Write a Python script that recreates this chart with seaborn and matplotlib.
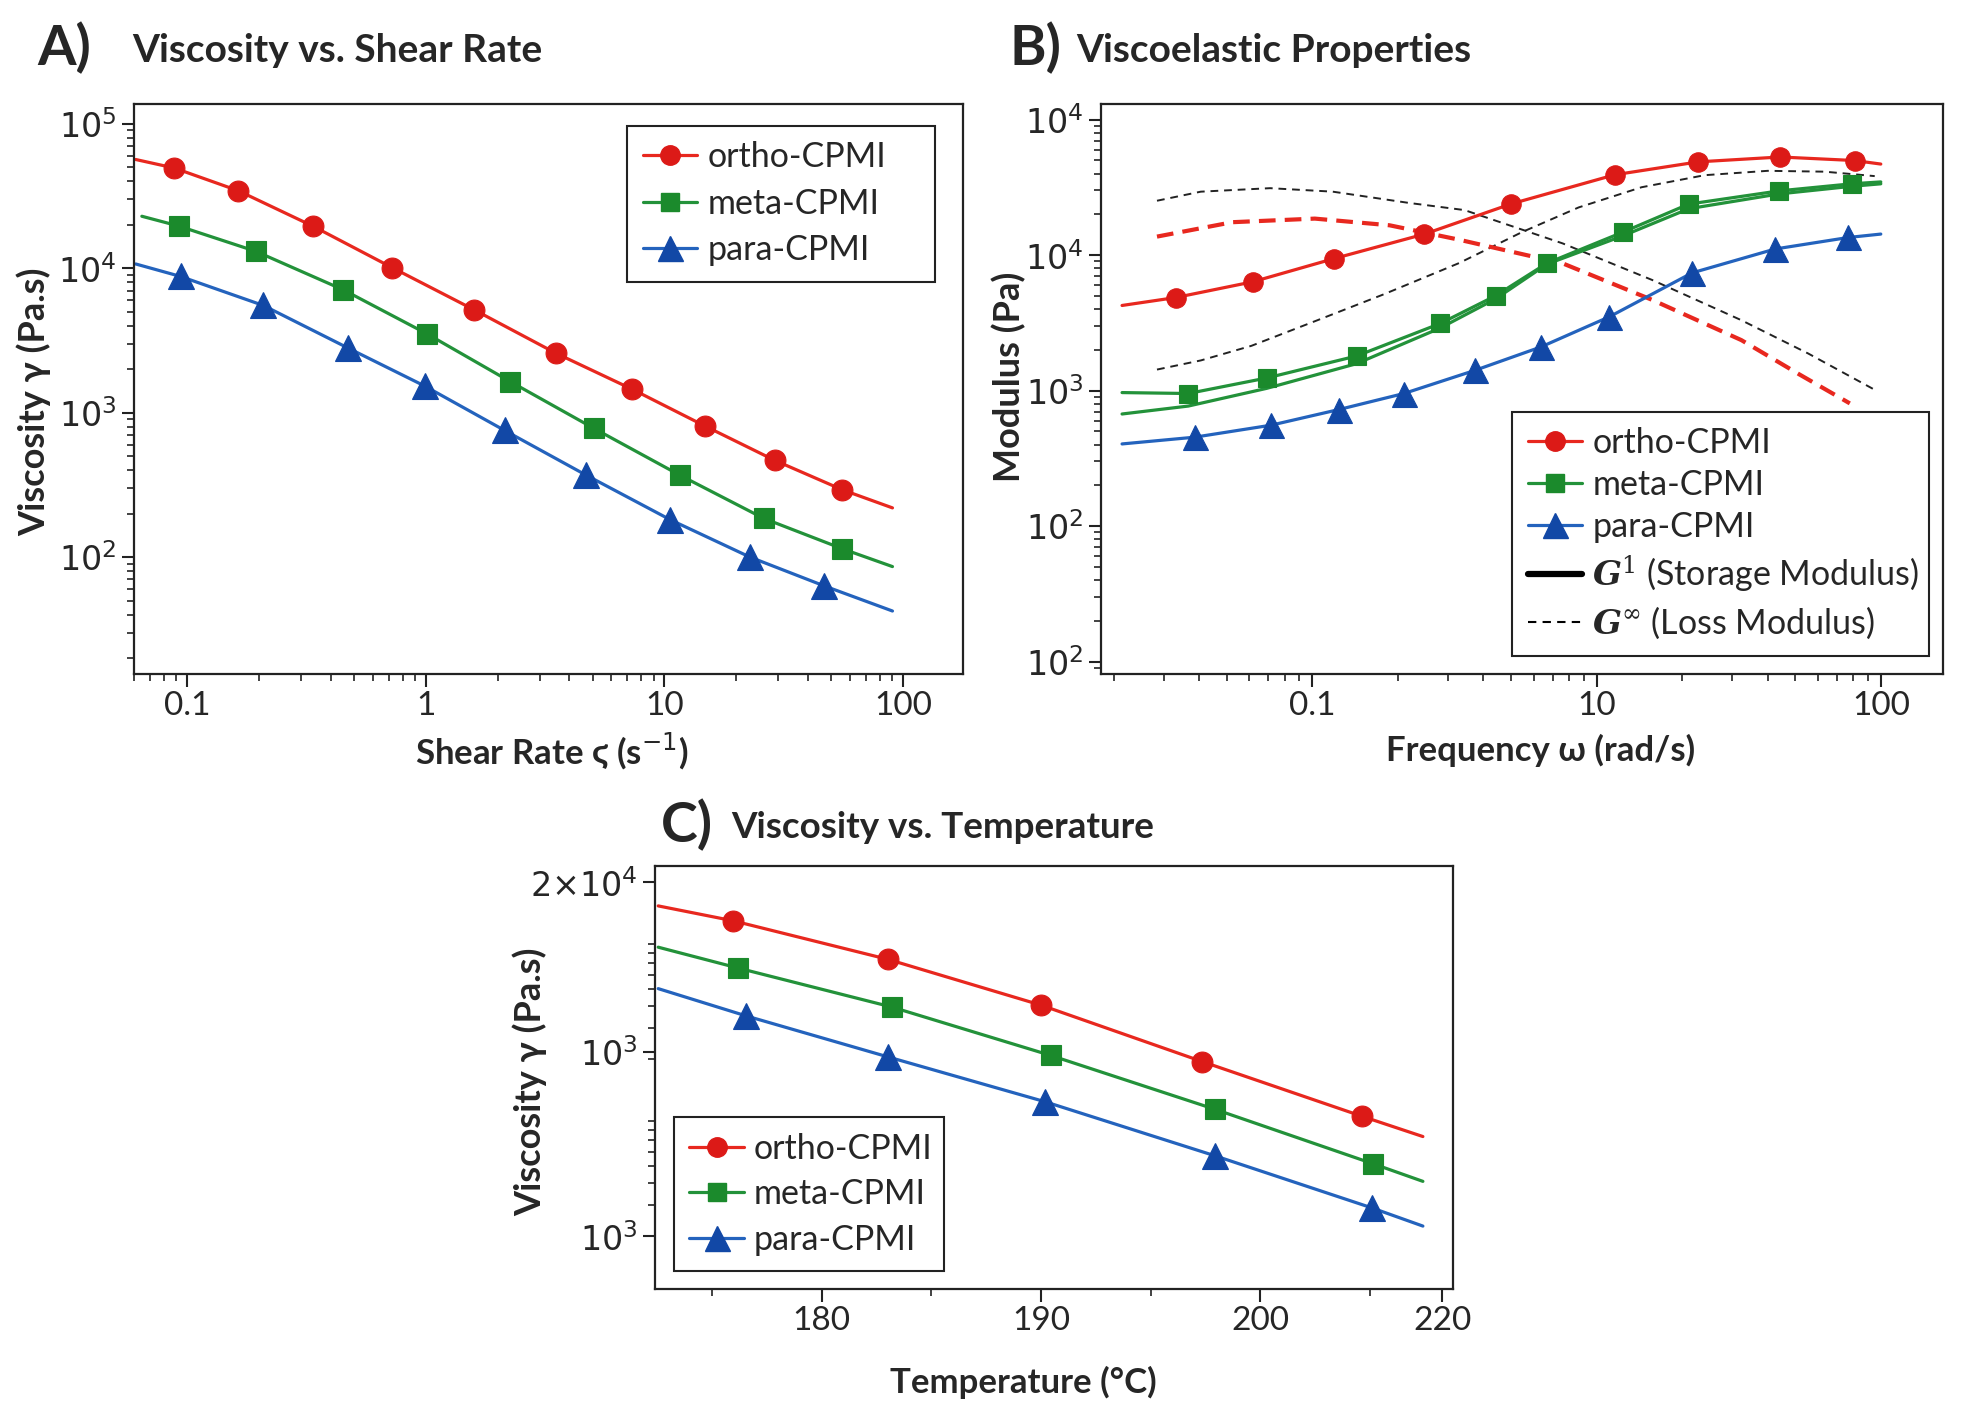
import matplotlib
matplotlib.use("Agg")
import matplotlib.pyplot as plt
from matplotlib.lines import Line2D
from matplotlib.ticker import FixedLocator, FixedFormatter, NullFormatter
import seaborn as sns

# ---- A) viscosity vs shear rate (first and last point = ends of the fitted curve) ----
a_ortho_rate = [0.061, 0.0885, 0.164, 0.338, 0.723, 1.60, 3.51, 7.34, 14.8, 29.0, 55.7, 90.2]
a_ortho_visc = [5.66e4, 4.94e4, 3.44e4, 1.95e4, 1.01e4, 5.14e3, 2.58e3, 1.45e3, 807, 467, 292, 219]
a_meta_rate = [0.0647, 0.0923, 0.194, 0.452, 1.01, 2.26, 5.05, 11.6, 26.1, 55.7, 90.2]
a_meta_visc = [2.29e4, 1.96e4, 1.31e4, 7.08e3, 3.52e3, 1.64e3, 780, 369, 185, 114, 85.9]
a_para_rate = [0.061, 0.094, 0.209, 0.471, 0.989, 2.14, 4.70, 10.6, 22.8, 46.5, 90.2]
a_para_visc = [1.07e4, 8.77e3, 5.52e3, 2.81e3, 1.53e3, 753, 369, 181, 100, 63.3, 42.3]

# ---- B) viscoelastic properties ----
b_ortho_freq = [0.214, 0.330, 0.616, 1.19, 2.48, 5.01, 11.6, 22.8, 44.3, 80.9, 100]
b_ortho_g1 = [4.25e3, 4.86e3, 6.35e3, 9.42e3, 1.43e4, 2.39e4, 3.92e4, 4.88e4, 5.30e4, 4.99e4, 4.70e4]
b_ortho_loss_freq = [0.284, 0.523, 1.02, 1.87, 3.28, 7.60, 15.7, 32.3, 51.6, 77.8]
b_ortho_g2 = [1.37e4, 1.75e4, 1.86e4, 1.66e4, 1.30e4, 8.69e3, 4.67e3, 2.36e3, 1.32e3, 805]
b_meta_freq = [0.214, 0.366, 0.692, 1.43, 2.82, 4.41, 6.70, 12.4, 21.1, 43.9, 78.9, 100]
b_meta_g1 = [967, 952, 1.24e3, 1.80e3, 3.13e3, 5.01e3, 8.73e3, 1.48e4, 2.38e4, 2.98e4, 3.36e4, 3.47e4]
b_meta_g1_b = [672, 769, 1.04e3, 1.58e3, 2.90e3, 4.75e3, 8.59e3, 1.39e4, 2.20e4, 2.83e4, 3.22e4, 3.36e4]
b_para_freq = [0.214, 0.385, 0.717, 1.24, 2.10, 3.73, 6.37, 11.1, 21.7, 42.5, 76.9, 100]
b_para_g1 = [404, 453, 556, 725, 952, 1.41e3, 2.10e3, 3.51e3, 7.40e3, 1.11e4, 1.35e4, 1.43e4]
b_loss_up_freq = [0.284, 0.405, 0.710, 1.18, 2.18, 3.43, 7.60, 15.7, 32.3, 55.5, 95.5]
b_loss_up = [2.52e4, 2.94e4, 3.12e4, 2.94e4, 2.43e4, 2.15e4, 1.22e4, 6.55e3, 3.31e3, 1.88e3, 1.01e3]
b_loss_low_freq = [0.284, 0.405, 0.610, 1.02, 1.78, 3.28, 5.47, 8.65, 14.4, 24.0, 40.0, 63.4, 95.2]
b_loss_low = [1.43e3, 1.67e3, 2.14e3, 3.25e3, 5.13e3, 8.73e3, 1.48e4, 2.25e4, 3.17e4, 3.89e4, 4.19e4, 4.13e4, 3.83e4]

# ---- C) viscosity vs temperature ----
c_ortho_temp = [172.54, 175.97, 183.02, 190.0, 197.34, 204.64, 207.41]
c_ortho_visc = [1.47e4, 1.21e4, 7.33e3, 4.04e3, 1.94e3, 951, 731]
c_meta_temp = [172.54, 176.18, 183.2, 190.44, 197.95, 205.14, 207.41]
c_meta_visc = [8.59e3, 6.55e3, 3.94e3, 2.10e3, 1.04e3, 513, 408]
c_para_temp = [172.54, 176.56, 183.02, 190.18, 197.95, 205.08, 207.41]
c_para_visc = [5.01e3, 3.51e3, 2.06e3, 1.15e3, 568, 289, 228]

# tick labels as printed on the original figure
a_xticks = [0.1, 1, 10, 100]
a_xlabels = ["0.1", "1", "10", "100"]
a_yticks = [1e2, 1e3, 1e4, 1e5]
a_ylabels = [r"$10^{2}$", r"$10^{3}$", r"$10^{4}$", r"$10^{5}$"]
b_xticks = [1, 10, 100]
b_xlabels = ["0.1", "10", "100"]
b_yticks = [1e1, 1e2, 1e3, 1e4, 1e5]
b_ylabels = [r"$10^{2}$", r"$10^{2}$", r"$10^{3}$", r"$10^{4}$", r"$10^{4}$"]
c_xticks = [180, 190, 200, 208.3]
c_xlabels = ["180", "190", "200", "220"]
c_xminor = [175, 185, 195, 205]
c_yticks = [2e2, 2.2e3, 2e4]
c_ylabels = [r"$10^{3}$", r"$10^{3}$", r"$2{\times}10^{4}$"]

names = ["ortho-CPMI", "meta-CPMI", "para-CPMI"]
line_col = ["#e8281f", "#23923a", "#2463bd"]
mark_col = ["#dc1a17", "#1b8a2c", "#1248a6"]
marks = ["o", "s", "^"]
msize = [15, 14, 19]

sns.set_style("ticks")
plt.rcParams["font.family"] = ["Lato", "DejaVu Sans"]
plt.rcParams["axes.edgecolor"] = "#222222"
plt.rcParams["axes.linewidth"] = 1.6
head_font = ["Lato", "DejaVu Sans"]


def curve(ax, x, y, i, ms=None, marked=True, lw=2.3):
    kw = {}
    if marked:
        kw = dict(marker=marks[i], markersize=ms or msize[i], markevery=list(range(1, len(x) - 1)),
                  markerfacecolor=mark_col[i], markeredgecolor=mark_col[i], markeredgewidth=0.8)
    sns.lineplot(x=x, y=y, ax=ax, color=line_col[i], lw=lw, sort=False, estimator=None, **kw)


def style_log(ax, xt, xl, yt, yl, xlim, ylim, xlog=True):
    if xlog:
        ax.set_xscale("log")
    ax.set_yscale("log")
    ax.set_xlim(*xlim)
    ax.set_ylim(*ylim)
    ax.xaxis.set_major_locator(FixedLocator(xt))
    ax.xaxis.set_major_formatter(FixedFormatter(xl))
    ax.yaxis.set_major_locator(FixedLocator(yt))
    ax.yaxis.set_major_formatter(FixedFormatter(yl))
    ax.xaxis.set_minor_formatter(NullFormatter())
    ax.yaxis.set_minor_formatter(NullFormatter())
    ax.tick_params(which="major", length=9, width=1.5, labelsize=24, color="#222222")
    ax.tick_params(which="minor", length=5, width=1.2, color="#222222")
    for s in ax.spines.values():
        s.set_visible(True)


def legend_handles(n=3):
    return [Line2D([], [], color=line_col[i], lw=2.3, marker=marks[i], markersize=msize[i] - 1,
                   markerfacecolor=mark_col[i], markeredgecolor=mark_col[i]) for i in range(n)]


def make_legend(ax, handles, labels, loc, box, spacing=0.43):
    leg = ax.legend(handles, labels, loc=loc, bbox_to_anchor=box, mode="expand", borderaxespad=0,
                    fontsize=24.5, frameon=True, fancybox=False, framealpha=1, edgecolor="#222222",
                    handlelength=1.6, handletextpad=0.3, labelspacing=spacing, borderpad=0.45)
    leg.get_frame().set_linewidth(1.5)
    return leg


fig = plt.figure(figsize=(19.68, 14.10), dpi=100)
ax_a = fig.add_axes([0.0681, 0.522, 0.4212, 0.4042])
ax_b = fig.add_axes([0.5593, 0.522, 0.4278, 0.4041])
ax_c = fig.add_axes([0.3329, 0.0859, 0.4056, 0.2999])

# panel A
style_log(ax_a, a_xticks, a_xlabels, a_yticks, a_ylabels, (0.06, 178), (15.5, 1.37e5))
curve(ax_a, a_ortho_rate, a_ortho_visc, 0)
curve(ax_a, a_meta_rate, a_meta_visc, 1)
curve(ax_a, a_para_rate, a_para_visc, 2)
make_legend(ax_a, legend_handles(), names, "upper left", (0.595, 0.7025, 0.371, 0.2595))
ax_a.set_ylabel("Viscosity γ (Pa.s)", fontsize=26, fontweight="bold", family=head_font)
ax_a.set_xlabel("Shear Rate ϛ (s$^{-1}$)", fontsize=25, fontweight="bold", family=head_font)
ax_a.yaxis.set_label_coords(-0.1, 0.478)
ax_a.xaxis.set_label_coords(0.504, -0.1)

# panel B
style_log(ax_b, b_xticks, b_xlabels, b_yticks, b_ylabels, (0.18, 165), (8.1, 1.3e5))
sns.lineplot(x=b_loss_up_freq, y=b_loss_up, ax=ax_b, color="#222222", lw=1.4, linestyle=(0, (4, 3)),
             sort=False, estimator=None)
sns.lineplot(x=b_loss_low_freq, y=b_loss_low, ax=ax_b, color="#222222", lw=1.4, linestyle=(0, (4, 3)),
             sort=False, estimator=None)
sns.lineplot(x=b_ortho_loss_freq, y=b_ortho_g2, ax=ax_b, color=line_col[0], lw=3.0, linestyle=(0, (4, 2.2)),
             sort=False, estimator=None)
curve(ax_b, b_meta_freq, b_meta_g1_b, 1, marked=False)
curve(ax_b, b_ortho_freq, b_ortho_g1, 0, ms=14)
curve(ax_b, b_meta_freq, b_meta_g1, 1, ms=13)
curve(ax_b, b_para_freq, b_para_g1, 2, ms=18)
hb = legend_handles() + [Line2D([], [], color="black", lw=4.5),
                         Line2D([], [], color="black", lw=1.5, linestyle=(0, (4, 3)))]
lb = names + [r"$\mathbfit{G}^{1}$ (Storage Modulus)", r"$\mathbfit{G}^{\infty}$ (Loss Modulus)"]
leg_b = make_legend(ax_b, hb, lb, "lower left", (0.4889, 0.031, 0.4948, 0.425), spacing=0.3)
for t in leg_b.get_texts()[3:]:
    t.set_math_fontfamily("dejavuserif")
ax_b.set_ylabel("Modulus (Pa)", fontsize=26, fontweight="bold", family=head_font)
ax_b.set_xlabel("Frequency ω (rad/s)", fontsize=25, fontweight="bold", family=head_font)
ax_b.yaxis.set_label_coords(-0.088, 0.522)
ax_b.xaxis.set_label_coords(0.523, -0.105)

# panel C
style_log(ax_c, c_xticks, c_xlabels, c_yticks, c_ylabels, (172.4, 208.8), (100.7, 2.47e4), xlog=False)
ax_c.xaxis.set_minor_locator(FixedLocator(c_xminor))
curve(ax_c, c_ortho_temp, c_ortho_visc, 0)
curve(ax_c, c_meta_temp, c_meta_visc, 1)
curve(ax_c, c_para_temp, c_para_visc, 2)
make_legend(ax_c, legend_handles(), names, "lower left", (0.0237, 0.0416, 0.338, 0.4245), spacing=0.4)
ax_c.set_ylabel("Viscosity γ (Pa.s)", fontsize=26, fontweight="bold", family=head_font)
ax_c.set_xlabel("Temperature (°C)", fontsize=25, fontweight="bold", family=head_font)
ax_c.yaxis.set_label_coords(-0.135, 0.49)
ax_c.xaxis.set_label_coords(0.461, -0.181)

# panel titles
for lx, tx, y, letter, title, size in [(0.0192, 0.067, 0.966, "A)", "Viscosity vs. Shear Rate", 28),
                                       (0.513, 0.547, 0.966, "B)", "Viscoelastic Properties", 28),
                                       (0.336, 0.3718, 0.4152, "C)", "Viscosity vs. Temperature", 26.5)]:
    fig.text(lx, y, letter, fontsize=40, fontweight="bold", family=head_font, va="center", ha="left")
    fig.text(tx, y - 0.002, title, fontsize=size, fontweight="bold", family=head_font, va="center", ha="left")

fig.savefig("out.png", dpi=100, facecolor="white")
